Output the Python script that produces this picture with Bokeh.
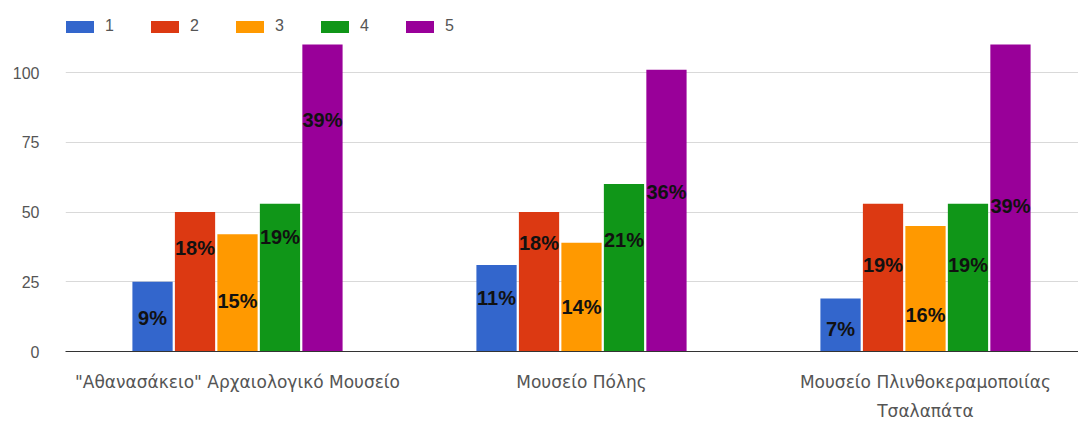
import numpy as np
from bokeh.plotting import figure
from bokeh.models import ColumnDataSource, FixedTicker, Legend, LegendItem, Range1d
from bokeh.embed import file_html
from bokeh.resources import INLINE
from bokeh.core.properties import value

# ---- data ----
museums = ['"Αθανασάκειο" Αρχαιολογικό Μουσείο', "Μουσείο Πόλης",
           "Μουσείο Πλινθοκεραμοποιίας\nΤσαλαπάτα"]
series_names = ["1", "2", "3", "4", "5"]
s1 = [25, 31, 19]
s2 = [50, 50, 53]
s3 = [42, 39, 45]
s4 = [53, 60, 53]
s5 = [110, 101, 110]
pct1 = ["9%", "11%", "7%"]
pct2 = ["18%", "18%", "19%"]
pct3 = ["15%", "14%", "16%"]
pct4 = ["19%", "21%", "19%"]
pct5 = ["39%", "36%", "39%"]
# height (in value units) at which each percentage label sits in the picture
lab1 = [12, 19, 8]
lab2 = [37, 39, 31]
lab3 = [18, 16, 13]
lab4 = [41, 40, 31]
lab5 = [83, 57, 52]
y_ticks = [0, 25, 50, 75, 100]

colors = ["#3366cc", "#dc3912", "#ff9900", "#109618", "#990099"]
values = [s1, s2, s3, s4, s5]
pcts = [pct1, pct2, pct3, pct4, pct5]
labs = [lab1, lab2, lab3, lab4, lab5]

FONT = "Liberation Sans"
XFONT = "DejaVu Sans"

p = figure(width=1078, height=435, output_backend="svg", toolbar_location=None,
           x_range=Range1d(0.5, 0.5 + 1013 / 344), y_range=Range1d(0, 351 / 2.79),
           min_border_left=65, min_border_right=0, min_border_top=0, min_border_bottom=84)
p.outline_line_color = None
p.background_fill_color = "white"
p.border_fill_color = "white"

centers = np.arange(1, len(museums) + 1)
pitch = 0.1235
offsets = [(i - 2) * pitch for i in range(5)]

items = []
for i in range(5):
    src = ColumnDataSource(dict(x=centers + offsets[i], top=values[i],
                                ly=labs[i], txt=pcts[i]))
    r = p.vbar(x="x", top="top", bottom=0, width=0.117, source=src,
               fill_color=colors[i], line_color=None)
    p.text(x="x", y="ly", text="txt", source=src, text_align="center",
           text_baseline="middle", text_font=value(FONT), text_font_style="bold",
           text_font_size="20px", text_color="#111111")
    items.append(LegendItem(label=series_names[i], renderers=[r]))

legend = Legend(items=items, orientation="horizontal", location=(-3, 316),
                glyph_width=35, glyph_height=15, label_height=15,
                label_standoff=8, spacing=22, padding=0, margin=0,
                border_line_color=None, background_fill_alpha=0,
                label_text_font=FONT, label_text_font_size="16px",
                label_text_color="#555555")
p.add_layout(legend, "center")

# y axis
p.yaxis.ticker = FixedTicker(ticks=y_ticks)
p.yaxis.axis_line_color = None
p.yaxis.major_tick_line_color = None
p.yaxis.minor_tick_line_color = None
p.yaxis.major_label_standoff = 20
p.yaxis.major_label_text_font = FONT
p.yaxis.major_label_text_font_size = "16px"
p.yaxis.major_label_text_color = "#555555"

# x axis
p.xaxis.ticker = FixedTicker(ticks=list(centers))
p.xaxis.major_label_overrides = {int(c): m for c, m in zip(centers, museums)}
p.xaxis.axis_line_color = "#333333"
p.xaxis.major_tick_line_color = None
p.xaxis.minor_tick_line_color = None
p.xaxis.major_label_standoff = 14
p.xaxis.major_label_text_font = XFONT
p.xaxis.major_label_text_font_size = "17px"
p.xaxis.major_label_text_color = "#555555"
p.xaxis.major_label_text_line_height = 1.45

p.xgrid.grid_line_color = None
p.ygrid.grid_line_color = "#d9d9d9"

open("out.html", "w").write(file_html(p, INLINE))
